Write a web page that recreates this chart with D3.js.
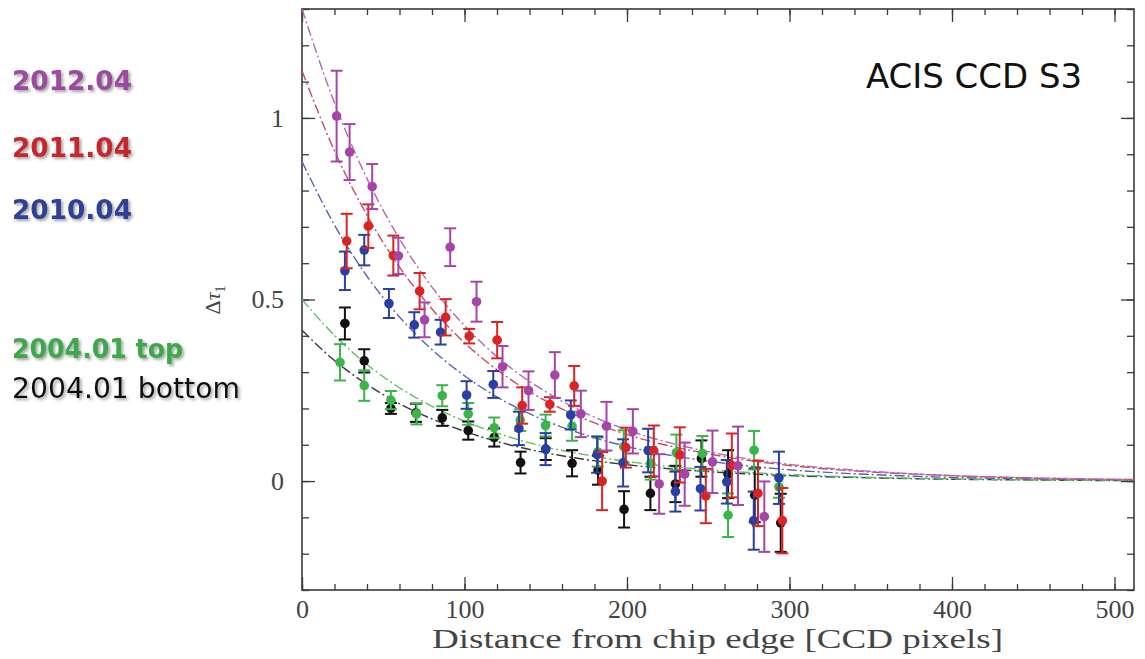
<!DOCTYPE html>
<html>
<head>
<meta charset="utf-8">
<script src="https://cdn.jsdelivr.net/npm/d3@7"></script>
<style>
  body { margin: 0; background: #fff; }
  svg { display: block; }
</style>
</head>
<body>
<svg id="chart" width="1145" height="659"></svg>
<script>
// Measured Δτ_I versus distance from the chip edge, per epoch
const dist2012 = [21.3, 29.3, 43.2, 59.3, 75.4, 91.2, 107.4, 123.4, 139.4, 155.6, 171.6, 187.4, 203.6, 219.8, 235.5, 252.6, 268.3, 284.5];
const tau2012  = [1.005, 0.906, 0.811, 0.620, 0.444, 0.644, 0.494, 0.315, 0.249, 0.292, 0.185, 0.151, 0.137, -0.008, 0.019, 0.053, 0.042, -0.098];
const err2012  = [0.125, 0.077, 0.062, 0.050, 0.048, 0.052, 0.055, 0.057, 0.053, 0.063, 0.064, 0.067, 0.061, 0.082, 0.087, 0.086, 0.108, 0.097];

const dist2011 = [27.5, 40.8, 56.2, 72.4, 88.4, 102.9, 120.1, 135.5, 152.5, 167.5, 184.7, 199.3, 216.5, 232.5, 248.5, 264.5, 280.6, 295.6];
const tau2011  = [0.661, 0.702, 0.621, 0.523, 0.451, 0.399, 0.388, 0.208, 0.211, 0.262, 0.000, 0.092, 0.083, 0.072, -0.041, 0.043, -0.034, -0.109];
const err2011  = [0.075, 0.060, 0.055, 0.050, 0.050, 0.020, 0.050, 0.050, 0.020, 0.055, 0.080, 0.055, 0.070, 0.076, 0.075, 0.088, 0.090, 0.090];

const dist2010 = [26.4, 38.3, 53.5, 69.1, 85.3, 101.3, 117.7, 133.5, 149.9, 165.4, 181.6, 197.6, 213.0, 229.8, 245.2, 261.4, 278.0, 293.5];
const tau2010  = [0.579, 0.636, 0.489, 0.430, 0.410, 0.237, 0.266, 0.145, 0.088, 0.182, 0.073, 0.050, 0.084, -0.029, -0.021, -0.002, -0.109, 0.009];
const err2010  = [0.053, 0.042, 0.040, 0.035, 0.034, 0.038, 0.037, 0.046, 0.044, 0.040, 0.050, 0.065, 0.060, 0.055, 0.060, 0.060, 0.080, 0.072];

const distTop = [23.4, 38.3, 54.7, 70.5, 86.3, 102.3, 118.3, 134.3, 149.9, 166.2, 182.0, 198.0, 214.6, 230.4, 246.4, 262.2, 278.2, 293.5];
const tauTop  = [0.327, 0.263, 0.223, 0.185, 0.235, 0.185, 0.147, 0.168, 0.153, 0.151, 0.080, 0.095, 0.049, 0.078, 0.076, -0.094, 0.085, -0.016];
const errTop  = [0.050, 0.042, 0.025, 0.029, 0.029, 0.030, 0.028, 0.030, 0.030, 0.040, 0.040, 0.045, 0.045, 0.050, 0.048, 0.060, 0.053, 0.030];

const distBottom = [26.4, 38.3, 54.7, 70.1, 86.3, 102.3, 118.3, 134.5, 150.0, 166.2, 182.2, 198.2, 214.4, 229.8, 245.8, 262.2, 278.6, 294.6];
const tauBottom  = [0.434, 0.331, 0.200, 0.188, 0.174, 0.139, 0.120, 0.051, 0.088, 0.049, 0.030, -0.078, -0.034, -0.008, 0.062, 0.019, -0.039, -0.115];
const errBottom  = [0.044, 0.032, 0.015, 0.025, 0.022, 0.025, 0.025, 0.030, 0.030, 0.036, 0.040, 0.050, 0.046, 0.050, 0.050, 0.066, 0.074, 0.080];

// Fitted profiles, tabulated along the distance axis
const fitX      = [0, 20, 40, 60, 80, 100, 125, 150, 175, 200, 250, 300, 350, 400, 450, 512];
const fit2012   = [1.300, 1.041, 0.833, 0.667, 0.534, 0.428, 0.324, 0.246, 0.186, 0.141, 0.081, 0.046, 0.027, 0.015, 0.009, 0.004];
const fit2011   = [1.130, 0.909, 0.732, 0.589, 0.474, 0.381, 0.290, 0.221, 0.169, 0.128, 0.075, 0.043, 0.025, 0.015, 0.008, 0.004];
const fit2010   = [0.880, 0.705, 0.564, 0.452, 0.362, 0.290, 0.219, 0.166, 0.126, 0.095, 0.055, 0.031, 0.018, 0.010, 0.006, 0.003];
const fitTop    = [0.500, 0.401, 0.321, 0.257, 0.206, 0.165, 0.125, 0.094, 0.072, 0.054, 0.031, 0.018, 0.010, 0.006, 0.003, 0.002];
const fitBottom = [0.415, 0.332, 0.266, 0.213, 0.171, 0.137, 0.103, 0.078, 0.059, 0.045, 0.026, 0.015, 0.009, 0.005, 0.003, 0.001];

// Axis ticks
const xMajorTicks = [0, 100, 200, 300, 400, 500];
const yMajorTicks = [0, 0.5, 1];
const yTickLabels = ["0", "0.5", "1"];

const legendLabels = ["2012.04", "2011.04", "2010.04", "2004.01 top", "2004.01 bottom"];

const series = [
  { name: "2004.01 bottom", xs: distBottom, ys: tauBottom, es: errBottom, fit: fitBottom, dot: "#111111", line: "#3a3a3a" },
  { name: "2004.01 top",    xs: distTop,    ys: tauTop,    es: errTop,    fit: fitTop,    dot: "#3bb54a", line: "#5cbf5c" },
  { name: "2010.04",        xs: dist2010,   ys: tau2010,   es: err2010,   fit: fit2010,   dot: "#2a3fa6", line: "#5564b4" },
  { name: "2011.04",        xs: dist2011,   ys: tau2011,   es: err2011,   fit: fit2011,   dot: "#dc2323", line: "#c44f5a" },
  { name: "2012.04",        xs: dist2012,   ys: tau2012,   es: err2012,   fit: fit2012,   dot: "#a645a8", line: "#b466b6" }
];

const svg = d3.select("#chart");
const plotLeft = 302, plotRight = 1134, plotTop = 9, plotBottom = 590;

const x = d3.scaleLinear().domain([0, 512]).range([plotLeft, plotRight]);
const y = d3.scaleLinear().domain([-0.3, 1.3]).range([plotBottom, plotTop]);

// Drop shadow used by the epoch labels
const defs = svg.append("defs");
const f = defs.append("filter").attr("id", "shadow").attr("x", "-10%").attr("y", "-30%").attr("width", "130%").attr("height", "170%");
f.append("feDropShadow").attr("dx", 2).attr("dy", 2).attr("stdDeviation", 1.6)
  .attr("flood-color", "#666").attr("flood-opacity", 0.6);
defs.append("clipPath").attr("id", "plotClip")
  .append("rect").attr("x", plotLeft).attr("y", plotTop).attr("width", plotRight - plotLeft).attr("height", plotBottom - plotTop);

// Axes: inward ticks on all four sides
const axisColor = "#3a3a3a";
const minorX = d3.range(0, 513, 20);
const minorY = d3.range(-3, 14).map(v => v / 10);

function styleAxis(g) {
  g.select(".domain").remove();
  g.selectAll("line").attr("stroke", axisColor).attr("stroke-width", 1.3);
  g.selectAll("text").attr("fill", "#444").attr("font-family", "'Liberation Serif', 'DejaVu Serif', serif").attr("font-size", 26);
}

svg.append("g").attr("transform", `translate(0,${plotBottom})`)
  .call(d3.axisBottom(x).tickValues(minorX).tickSize(-6).tickFormat("")).call(styleAxis);
svg.append("g").attr("transform", `translate(0,${plotBottom})`)
  .call(d3.axisBottom(x).tickValues(xMajorTicks).tickSize(-13).tickPadding(10).tickFormat(d3.format("d"))).call(styleAxis);
svg.append("g").attr("transform", `translate(0,${plotTop})`)
  .call(d3.axisTop(x).tickValues(minorX).tickSize(-6).tickFormat("")).call(styleAxis);
svg.append("g").attr("transform", `translate(0,${plotTop})`)
  .call(d3.axisTop(x).tickValues(xMajorTicks).tickSize(-13).tickFormat("")).call(styleAxis);

svg.append("g").attr("transform", `translate(${plotLeft},0)`)
  .call(d3.axisLeft(y).tickValues(minorY).tickSize(-7).tickFormat("")).call(styleAxis);
svg.append("g").attr("transform", `translate(${plotLeft},0)`)
  .call(d3.axisLeft(y).tickValues(yMajorTicks).tickSize(-13).tickPadding(18)
    .tickFormat((d, i) => yTickLabels[i])).call(styleAxis);
svg.append("g").attr("transform", `translate(${plotRight},0)`)
  .call(d3.axisRight(y).tickValues(minorY).tickSize(-7).tickFormat("")).call(styleAxis);
svg.append("g").attr("transform", `translate(${plotRight},0)`)
  .call(d3.axisRight(y).tickValues(yMajorTicks).tickSize(-13).tickFormat("")).call(styleAxis);

// Frame
svg.append("rect").attr("x", plotLeft).attr("y", plotTop).attr("width", plotRight - plotLeft).attr("height", plotBottom - plotTop)
  .attr("fill", "none").attr("stroke", axisColor).attr("stroke-width", 1.6);

// Axis titles
svg.append("text")
  .attr("x", (432 + 1003) / 2).attr("y", 648)
  .attr("text-anchor", "middle")
  .attr("font-family", "'Liberation Serif', 'DejaVu Serif', serif")
  .attr("font-size", 27).attr("fill", "#444")
  .attr("textLength", 571).attr("lengthAdjust", "spacingAndGlyphs")
  .text("Distance from chip edge [CCD pixels]");

const yl = svg.append("text")
  .attr("transform", "translate(220,300) rotate(-90)")
  .attr("text-anchor", "middle")
  .attr("font-family", "'Liberation Serif', 'DejaVu Serif', serif")
  .attr("font-size", 22).attr("fill", "#444");
yl.append("tspan").text("Δ");
yl.append("tspan").attr("font-style", "italic").text("τ");
yl.append("tspan").attr("font-size", 14).attr("dy", 5).text("1");

// Fitted curves
const plot = svg.append("g").attr("clip-path", "url(#plotClip)");
const line = d3.line().x(d => x(d[0])).y(d => y(d[1])).curve(d3.curveMonotoneX);
series.forEach(s => {
  plot.append("path")
    .attr("d", line(fitX.map((v, i) => [v, s.fit[i]])))
    .attr("fill", "none").attr("stroke", s.line).attr("stroke-width", 1.4)
    .attr("stroke-dasharray", "10,3,2,3");
});

// Data points with error bars
series.forEach(s => {
  const g = plot.append("g");
  s.xs.forEach((xv, i) => {
    const yv = s.ys[i], e = s.es[i];
    const cx = x(xv);
    g.append("line").attr("x1", cx).attr("x2", cx).attr("y1", y(yv + e)).attr("y2", y(yv - e))
      .attr("stroke", s.dot).attr("stroke-width", 2);
    [yv + e, yv - e].forEach(c => {
      g.append("line").attr("x1", cx - 6).attr("x2", cx + 6).attr("y1", y(c)).attr("y2", y(c))
        .attr("stroke", s.dot).attr("stroke-width", 2);
    });
    g.append("circle").attr("cx", cx).attr("cy", y(yv)).attr("r", 4.8).attr("fill", s.dot);
  });
});

// Panel title
svg.append("text").attr("x", 866).attr("y", 88)
  .attr("font-family", "'DejaVu Sans', Verdana, sans-serif").attr("font-size", 33)
  .attr("fill", "#111").attr("textLength", 216).attr("lengthAdjust", "spacingAndGlyphs")
  .text("ACIS CCD S3");

// Epoch labels
const legendStyle = [
  { y: 90,  color: "#9c4aa0", weight: "bold",   size: 26, len: 120 },
  { y: 157, color: "#c8282e", weight: "bold",   size: 26, len: 120 },
  { y: 219, color: "#2d3f98", weight: "bold",   size: 26, len: 120 },
  { y: 358, color: "#3aa84a", weight: "bold",   size: 26, len: 171 },
  { y: 398, color: "#111111", weight: "normal", size: 28, len: 228 }
];
legendLabels.forEach((t, i) => {
  const st = legendStyle[i];
  svg.append("text").attr("x", 12).attr("y", st.y)
    .attr("font-family", "'DejaVu Sans', Verdana, sans-serif")
    .attr("font-size", st.size).attr("font-weight", st.weight)
    .attr("fill", st.color).attr("filter", "url(#shadow)")
    .attr("textLength", st.len).attr("lengthAdjust", "spacingAndGlyphs")
    .text(t);
});
</script>
</body>
</html>
